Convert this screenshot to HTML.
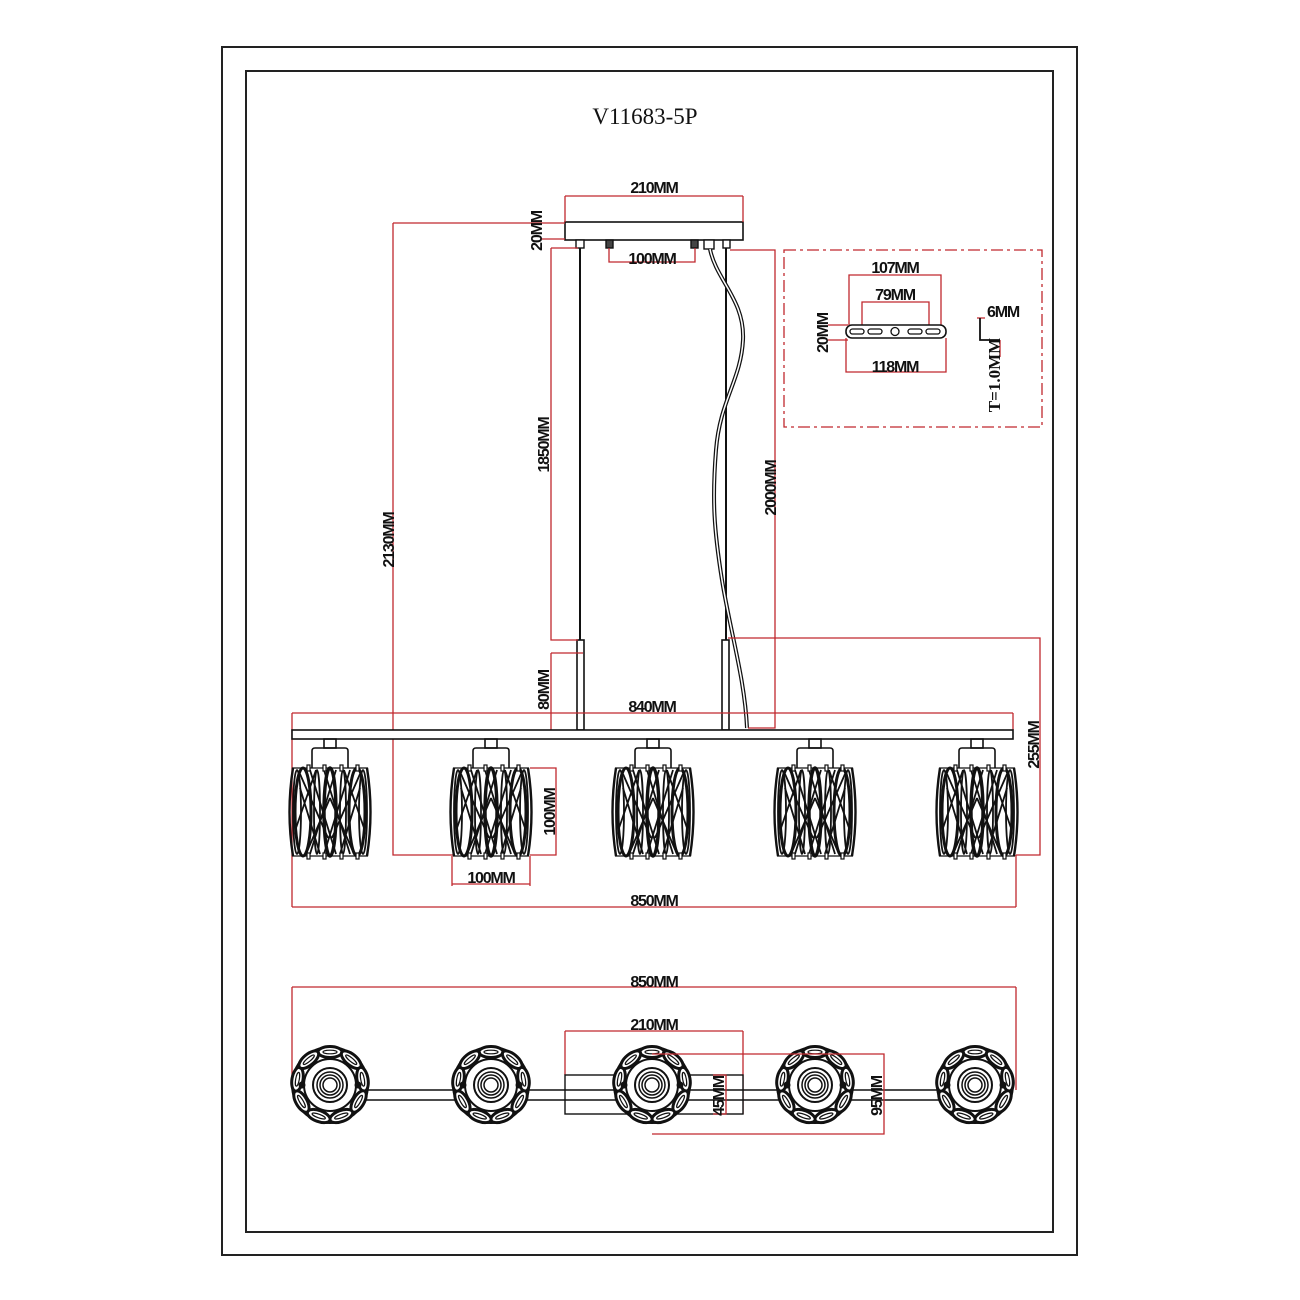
<!DOCTYPE html>
<html><head><meta charset="utf-8"><style>
html,body{margin:0;padding:0;background:#fff}
svg{display:block}
text{font-family:"Liberation Sans",sans-serif;font-weight:bold;font-size:16px;fill:#111;letter-spacing:-1.2px}
.r{stroke:#c0282e;stroke-width:1.3;fill:none}
.k{stroke:#111;stroke-width:1.6;fill:none}
</style></head><body>
<svg width="1300" height="1300" viewBox="0 0 1300 1300" xmlns="http://www.w3.org/2000/svg">
<defs>
<g id="shade">
 <rect x="-6" y="-29" width="12" height="9" class="k" fill="#fff"/>
 <path d="M-18 0 V-17 Q-18 -20 -15 -20 H15 Q18 -20 18 -17 V0" class="k"/>
 <g stroke="#111" fill="none" stroke-width="1.8">
  <path d="M-37 0 Q-44 44 -37 88 M37 0 Q44 44 37 88" stroke-width="2.4"/>
  <ellipse cx="-27" cy="44" rx="8" ry="44" stroke-width="3"/>
  <ellipse cx="0" cy="44" rx="6" ry="44" stroke-width="3.4"/>
  <ellipse cx="27" cy="44" rx="8" ry="44" stroke-width="3"/>
  <ellipse cx="-33" cy="44" rx="4" ry="42"/>
  <ellipse cx="33" cy="44" rx="4" ry="42"/>
  <ellipse cx="-13" cy="44" rx="3" ry="42"/>
  <ellipse cx="13" cy="44" rx="3" ry="42"/>
  <path d="M-20 2 L6 86 M-20 86 L6 2 M-6 2 L20 86 M-6 86 L20 2 M-30 6 L-2 70 M30 6 L2 70 M-14 2 L-34 60 M14 2 L34 60 M-24 86 L0 30 M24 86 L0 30 M-30 20 L-10 86 M30 20 L10 86"/>
  <path d="M-38 0 H38 M-38 88 H38" stroke-width="1.2"/>
 </g>
 <g fill="#fff" stroke="#111" stroke-width="1.2">
  <rect x="-23" y="-3" width="3" height="6"/><rect x="-7" y="-3" width="3" height="6"/><rect x="10" y="-3" width="3" height="6"/><rect x="26" y="-3" width="3" height="6"/>
  <rect x="-23" y="85" width="3" height="6"/><rect x="-7" y="85" width="3" height="6"/><rect x="10" y="85" width="3" height="6"/><rect x="26" y="85" width="3" height="6"/>
 </g>
</g>
<g id="petal"><ellipse cx="0" cy="-33" rx="12" ry="5.5" fill="#fff" stroke="#111" stroke-width="3"/><ellipse cx="0" cy="-33" rx="7" ry="1.8" fill="#fff" stroke="#111" stroke-width="1.2"/></g>
<g id="flower">
 <circle r="38" fill="#fff" stroke="#111" stroke-width="2"/>
 <use href="#petal" transform="rotate(0)"/><use href="#petal" transform="rotate(40)"/><use href="#petal" transform="rotate(80)"/><use href="#petal" transform="rotate(120)"/><use href="#petal" transform="rotate(160)"/><use href="#petal" transform="rotate(200)"/><use href="#petal" transform="rotate(240)"/><use href="#petal" transform="rotate(280)"/><use href="#petal" transform="rotate(320)"/>
 <circle r="26" fill="#fff" stroke="#111" stroke-width="2"/>
 <circle r="17" fill="none" stroke="#111" stroke-width="2"/>
 <circle r="13" fill="none" stroke="#111" stroke-width="1.5"/>
 <circle r="10" fill="none" stroke="#111" stroke-width="1.5"/>
 <circle r="7" fill="none" stroke="#111" stroke-width="1.5"/>
 <circle cx="-28" r="3.5" fill="#111"/><circle cx="28" r="3.5" fill="#111"/>
</g>
</defs>

<rect x="222" y="47" width="855" height="1208" fill="none" stroke="#222" stroke-width="2"/>
<rect x="246" y="71" width="807" height="1161" fill="none" stroke="#222" stroke-width="2"/>
<text x="645" y="124" text-anchor="middle" style="font-family:'Liberation Serif',serif;font-weight:normal;font-size:23px;letter-spacing:0">V11683-5P</text>

<!-- canopy -->
<rect x="565" y="222" width="178" height="18" class="k"/>
<path d="M565 196 V222 M743 196 V222 M565 196 H743" class="r"/>
<text x="654" y="193" text-anchor="middle">210MM</text>
<g fill="#fff" stroke="#111" stroke-width="1.4">
 <rect x="576" y="240" width="8" height="8"/><rect x="606" y="240" width="7" height="8" fill="#444"/><rect x="691" y="240" width="7" height="8" fill="#444"/><rect x="723" y="240" width="7" height="8"/><rect x="704" y="240" width="10" height="9"/>
</g>
<path d="M609 248 V262 H695 V248" class="r"/>
<text x="652" y="264" text-anchor="middle">100MM</text>
<!-- rods -->
<path d="M580 248 V640 M726 248 V640" stroke="#111" stroke-width="2"/>
<rect x="577" y="640" width="7" height="90" class="k"/>
<rect x="722" y="640" width="7" height="90" class="k"/>
<path d="M710 249 C716 280 745 300 743 340 C741 380 720 400 716 450 C712 500 714 530 722 580 C730 630 745 680 747 728" stroke="#111" stroke-width="4" fill="none"/>
<path d="M710 249 C716 280 745 300 743 340 C741 380 720 400 716 450 C712 500 714 530 722 580 C730 630 745 680 747 728" stroke="#fff" stroke-width="1.5" fill="none"/>

<!-- dimension lines upper -->
<path d="M393 223 H565 M540 239 H565 M393 223 V855 H455" class="r"/>
<text transform="translate(394,540) rotate(-90)" text-anchor="middle">2130MM</text>
<text transform="translate(542,231) rotate(-90)" text-anchor="middle">20MM</text>
<path d="M551 248 H578 M551 248 V640 H578 M551 653 H583 M551 653 V730" class="r"/>
<text transform="translate(549,445) rotate(-90)" text-anchor="middle">1850MM</text>
<text transform="translate(549,690) rotate(-90)" text-anchor="middle">80MM</text>
<path d="M730 250 H775 V728 H748" class="r"/>
<text transform="translate(776,488) rotate(-90)" text-anchor="middle">2000MM</text>
<path d="M728 638 H1040 V855 H1016" class="r"/>
<text transform="translate(1039,745) rotate(-90)" text-anchor="middle">255MM</text>

<!-- bar -->
<path d="M292 713 H1013 M292 713 V907 M1013 713 V730" class="r"/>
<text x="652" y="712" text-anchor="middle">840MM</text>
<rect x="292" y="730" width="721" height="9" fill="#fff" stroke="#111" stroke-width="1.6"/>
<use href="#shade" x="330" y="768"/>
<use href="#shade" x="491" y="768"/>
<use href="#shade" x="653" y="768"/>
<use href="#shade" x="815" y="768"/>
<use href="#shade" x="977" y="768"/>
<path d="M530 768 H556 V855 H530 M452 856 V886 M530 856 V886 M452 884 H530" class="r"/>
<text transform="translate(555,812) rotate(-90)" text-anchor="middle">100MM</text>
<text x="491" y="883" text-anchor="middle">100MM</text>
<path d="M292 907 H1016 M1016 855 V907" class="r"/>
<text x="654" y="906" text-anchor="middle">850MM</text>

<!-- bracket detail -->
<rect x="784" y="250" width="258" height="177" fill="none" stroke="#c0282e" stroke-width="1.3" stroke-dasharray="12 4 3 4"/>
<path d="M849 325 V275 H941 V325 M862 325 V302 H929 V325 M828 325 H848 M828 340 H848 M846 338 V372 H946 V338" class="r"/>
<text x="895" y="273" text-anchor="middle">107MM</text>
<text x="895" y="300" text-anchor="middle">79MM</text>
<text x="895" y="372" text-anchor="middle">118MM</text>
<text transform="translate(828,333) rotate(-90)" text-anchor="middle">20MM</text>
<rect x="846" y="325" width="100" height="13" rx="6" fill="#fff" stroke="#111" stroke-width="1.6"/>
<g fill="none" stroke="#111" stroke-width="1.3"><rect x="850" y="329" width="14" height="5" rx="2.5"/><rect x="868" y="329" width="14" height="5" rx="2.5"/><circle cx="895" cy="331.5" r="4"/><rect x="908" y="329" width="14" height="5" rx="2.5"/><rect x="926" y="329" width="14" height="5" rx="2.5"/></g>
<path d="M977 318 H985 M1000 340 V357" class="r"/>
<path d="M980 318 V340 H1000" stroke="#111" stroke-width="1.8" fill="none"/>
<text x="1003" y="317" text-anchor="middle">6MM</text>
<text transform="translate(1000,375) rotate(-90)" text-anchor="middle" style="font-family:'Liberation Serif',serif;font-size:17px;letter-spacing:0">T=1.0MM</text>

<!-- bottom view -->
<path d="M292 987 H1016 M292 987 V1085 M1016 987 V1090" class="r"/>
<text x="654" y="987" text-anchor="middle">850MM</text>
<path d="M565 1031 H743 M565 1031 V1075 M743 1031 V1114" class="r"/>
<text x="654" y="1030" text-anchor="middle">210MM</text>
<rect x="565" y="1075" width="178" height="39" fill="#fff" stroke="#111" stroke-width="1.4"/>
<path d="M330 1090 H977 M330 1100 H977" stroke="#111" stroke-width="1.6"/>
<use href="#flower" x="330" y="1085"/>
<use href="#flower" x="491" y="1085"/>
<use href="#flower" x="652" y="1085"/>
<use href="#flower" x="815" y="1085"/>
<use href="#flower" x="975" y="1085"/>
<path d="M652 1054 H884 V1134 H652 M713 1075 H726 V1114 H713" class="r"/>
<text transform="translate(724,1096) rotate(-90)" text-anchor="middle">45MM</text>
<text transform="translate(882,1096) rotate(-90)" text-anchor="middle">95MM</text>
</svg>
</body></html>
